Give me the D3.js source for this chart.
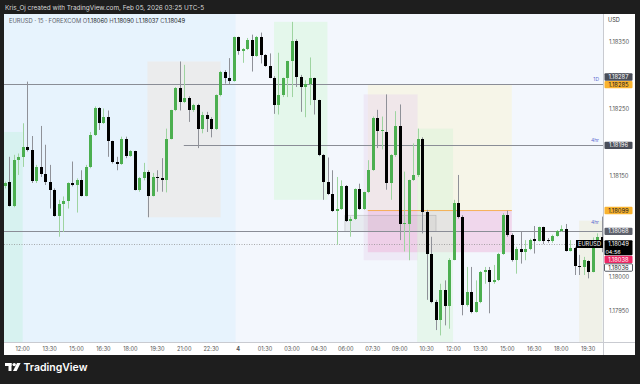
<!DOCTYPE html>
<html>
<head>
<meta charset="utf-8">
<script src="https://cdn.jsdelivr.net/npm/d3@7"></script>
<style>
  html, body { margin: 0; padding: 0; background: #1e1e1e; }
  svg { display: block; font-family: Inter, "Noto Sans", sans-serif; }
</style>
</head>
<body>
<svg id="chart" width="640" height="384"></svg>
<script>
// EURUSD 15m bars, first bar 2026-02-03 11:00
const firstBar = new Date(2026, 1, 3, 11, 0);
const barMinutes = 15;

const opens = [1.18135,1.18141,1.18106,1.18175,1.18178,1.18193,1.18189,1.18143,1.18164,1.18153,
  1.18141,1.18130,1.18091,1.18109,1.18113,1.18140,1.18137,1.18145,1.18121,1.18164,
  1.18211,1.18252,1.18229,1.18238,1.18202,1.18172,1.18168,1.18206,1.18180,1.18187,
  1.18130,1.18147,1.18157,1.18121,1.18149,1.18148,1.18144,1.18206,1.18248,1.18281,
  1.18261,1.18267,1.18248,1.18256,1.18221,1.18241,1.18236,1.18220,1.18271,1.18306,
  1.18297,1.18292,1.18357,1.18336,1.18339,1.18353,1.18329,1.18357,1.18331,1.18314,
  1.18297,1.18256,1.18271,1.18296,1.18321,1.18352,1.18298,1.18283,1.18287,1.18296,
  1.18263,1.18182,1.18141,1.18124,1.18099,1.18101,1.18136,1.18084,1.18086,1.18131,
  1.18102,1.18126,1.18159,1.18237,1.18218,1.18216,1.18140,1.18182,1.18225,1.18079,
  1.18079,1.18144,1.18152,1.18206,1.18097,1.18035,1.17963,1.17936,1.17981,1.17957,
  1.18026,1.18110,1.18090,1.17958,1.17978,1.17948,1.17963,1.18008,1.18010,1.17993,
  1.17995,1.18035,1.18092,1.18063,1.18025,1.18042,1.18038,1.18041,1.18056,1.18054,
  1.18074,1.18055,1.18053,1.18061,1.18069,1.18071,1.18039,1.18043,1.18016,1.18015,
  1.18024,1.18008,1.18055,1.18060];
const highs = [1.18142,1.18179,1.18182,1.18184,1.18229,1.18291,1.18210,1.18167,1.18225,1.18197,
  1.18167,1.18132,1.18115,1.18120,1.18141,1.18172,1.18147,1.18159,1.18167,1.18216,
  1.18254,1.18253,1.18251,1.18248,1.18203,1.18179,1.18209,1.18209,1.18189,1.18188,
  1.18149,1.18170,1.18159,1.18155,1.18159,1.18177,1.18221,1.18249,1.18283,1.18321,
  1.18316,1.18269,1.18258,1.18258,1.18246,1.18246,1.18238,1.18272,1.18307,1.18308,
  1.18326,1.18358,1.18358,1.18341,1.18356,1.18361,1.18359,1.18364,1.18332,1.18333,
  1.18299,1.18334,1.18297,1.18322,1.18380,1.18354,1.18301,1.18293,1.18327,1.18297,
  1.18264,1.18183,1.18178,1.18159,1.18149,1.18144,1.18137,1.18090,1.18132,1.18139,
  1.18127,1.18174,1.18239,1.18249,1.18239,1.18272,1.18183,1.18247,1.18257,1.18157,
  1.18145,1.18199,1.18221,1.18208,1.18100,1.18060,1.17966,1.17990,1.17995,1.18028,
  1.18115,1.18152,1.18092,1.18015,1.18015,1.17995,1.18009,1.18015,1.18015,1.18018,
  1.18036,1.18095,1.18099,1.18065,1.18045,1.18067,1.18055,1.18057,1.18076,1.18075,
  1.18075,1.18058,1.18063,1.18070,1.18077,1.18079,1.18055,1.18045,1.18033,1.18030,
  1.18025,1.18059,1.18065,1.18090];
const lows = [1.18132,1.18105,1.18104,1.18152,1.18164,1.18187,1.18140,1.18140,1.18149,1.18137,
  1.18102,1.18090,1.18060,1.18067,1.18102,1.18135,1.18096,1.18120,1.18120,1.18162,
  1.18210,1.18219,1.18228,1.18179,1.18169,1.18159,1.18167,1.18177,1.18179,1.18129,
  1.18127,1.18144,1.18089,1.18120,1.18127,1.18127,1.18126,1.18205,1.18247,1.18248,
  1.18259,1.18231,1.18246,1.18192,1.18214,1.18216,1.18208,1.18219,1.18269,1.18288,
  1.18286,1.18291,1.18331,1.18319,1.18338,1.18306,1.18328,1.18318,1.18313,1.18296,
  1.18243,1.18242,1.18268,1.18268,1.18268,1.18283,1.18246,1.18238,1.18256,1.18242,
  1.18180,1.18115,1.18122,1.18097,1.18048,1.18100,1.18082,1.18060,1.18085,1.18100,
  1.18100,1.18125,1.18158,1.18192,1.18190,1.18130,1.18115,1.18179,1.18055,1.18038,
  1.18025,1.18143,1.18149,1.18065,1.17966,1.17961,1.17921,1.17913,1.17928,1.17923,
  1.18025,1.18087,1.17943,1.17956,1.17946,1.17947,1.17961,1.17990,1.17946,1.17990,
  1.17994,1.18033,1.18060,1.18023,1.18005,1.18020,1.18025,1.18040,1.18035,1.18053,
  1.18049,1.18051,1.18051,1.18060,1.18067,1.18038,1.18038,1.18003,1.18003,1.18003,
  1.17998,1.18007,1.18054,1.18037];
const closes = [1.18140,1.18106,1.18175,1.18178,1.18193,1.18189,1.18143,1.18164,1.18153,1.18141,
  1.18130,1.18091,1.18109,1.18113,1.18140,1.18137,1.18145,1.18121,1.18164,1.18211,
  1.18252,1.18229,1.18238,1.18202,1.18172,1.18168,1.18206,1.18180,1.18187,1.18130,
  1.18147,1.18157,1.18121,1.18149,1.18148,1.18144,1.18206,1.18248,1.18281,1.18261,
  1.18267,1.18248,1.18256,1.18221,1.18241,1.18236,1.18220,1.18271,1.18306,1.18297,
  1.18292,1.18357,1.18336,1.18339,1.18353,1.18329,1.18357,1.18331,1.18314,1.18297,
  1.18256,1.18271,1.18296,1.18321,1.18352,1.18298,1.18283,1.18287,1.18296,1.18263,
  1.18182,1.18141,1.18124,1.18099,1.18101,1.18136,1.18084,1.18086,1.18131,1.18102,
  1.18126,1.18159,1.18237,1.18218,1.18219,1.18140,1.18182,1.18225,1.18079,1.18080,
  1.18144,1.18152,1.18206,1.18097,1.18035,1.17963,1.17936,1.17981,1.17957,1.18026,
  1.18110,1.18090,1.17958,1.17978,1.17948,1.17963,1.18008,1.18010,1.17993,1.17995,
  1.18035,1.18092,1.18063,1.18025,1.18042,1.18038,1.18041,1.18055,1.18054,1.18074,
  1.18054,1.18053,1.18061,1.18069,1.18071,1.18039,1.18043,1.18016,1.18015,1.18025,
  1.18008,1.18055,1.18060,1.18049];

// drawn zones: bar index from/to, price top/bottom (null = to the axis)
const zoneNames = ["teal", "range", "green", "beige", "lavender", "pink", "mint", "box", "beige2"];
const zoneFrom  = [-1.2, 31.8, 60.0, 80.9, 80.0, 80.9, 91.9, 75.8, 128.0];
const zoneTo    = [4.0, 48.1, 71.9, 113.0, 92.0, 113.0, 99.9, 96.1, 133.2];
const zoneTop   = [1.18216, 1.18321, 1.18380, 1.18286, 1.18272, 1.18099, 1.18221, 1.18092, 1.18084];
const zoneBot   = [null, 1.18089, 1.18115, 1.18099, 1.18025, 1.18037, null, 1.18068, null];

// horizontal levels
const levelPrices = [1.18287, 1.18196, 1.18068];
const levelFrom   = [-1.2, 39.9, -1.2];
const levelTags   = ["1D", "4hr", "4hr"];

const lastPrice = 1.18049;
const countdown = "04:56";
const tagPrices = [1.18287, 1.18285, 1.18196, 1.18099, 1.18068, 1.18038, 1.18036];

const svg = d3.select("#chart");
const plot = { l: 4, r: 603, t: 14, b: 342 };

const y = d3.scaleLinear().domain([1.17950, 1.18350]).range([310.6, 42]);
const x = d3.scaleLinear().domain([0, opens.length - 1]).range([4.75, 601.6]);
const step = x(1) - x(0);

// frame
svg.append("rect").attr("width", 640).attr("height", 384).attr("fill", "#1e1e1e");
svg.append("text").attr("x", 5).attr("y", 9.5).attr("fill", "#d8d8d8")
  .style("font-size", "6.4px").text("Kris_Oj created with TradingView.com, Feb 05, 2026 03:25 UTC-5");
svg.append("rect").attr("x", 4).attr("y", 14).attr("width", 631).attr("height", 341).attr("fill", "#ffffff");

svg.append("defs").append("clipPath").attr("id", "plotclip")
  .append("rect").attr("x", plot.l).attr("y", plot.t)
  .attr("width", plot.r - plot.l).attr("height", plot.b - plot.t);

const g = svg.append("g").attr("clip-path", "url(#plotclip)");

// session backgrounds
const midnight = x(52) - step / 2;
g.append("rect").attr("x", plot.l).attr("y", plot.t).attr("width", midnight - plot.l)
  .attr("height", plot.b - plot.t).attr("fill", "#e7f3fd");
g.append("rect").attr("x", midnight).attr("y", plot.t).attr("width", plot.r - midnight)
  .attr("height", plot.b - plot.t).attr("fill", "#f3f7fd");

const zoneFill = {
  teal: "rgba(205,242,232,0.6)", range: "rgba(236,236,236,0.92)", green: "rgba(225,247,232,0.85)",
  beige: "rgba(246,244,228,0.85)", lavender: "rgba(232,215,238,0.45)", pink: "rgba(238,175,215,0.45)",
  mint: "rgba(215,245,215,0.45)", box: "rgba(170,170,170,0.15)", beige2: "rgba(240,240,230,0.9)"
};
zoneNames.forEach((n, k) => {
  const x0 = x(zoneFrom[k]), x1 = x(zoneTo[k]);
  const y0 = y(zoneTop[k]), y1 = zoneBot[k] == null ? plot.b : y(zoneBot[k]);
  g.append("rect").attr("x", x0).attr("y", y0).attr("width", x1 - x0).attr("height", y1 - y0)
    .attr("fill", zoneFill[n])
    .attr("stroke", n === "box" ? "rgba(130,130,130,0.45)" : "none").attr("stroke-width", 0.6);
});

// orange edge on pink zone
g.append("line").attr("x1", x(zoneFrom[5])).attr("x2", x(zoneTo[5]))
  .attr("y1", y(zoneTop[5])).attr("y2", y(zoneTop[5]))
  .attr("stroke", "#f7a233").attr("stroke-width", 0.8);

// levels
levelPrices.forEach((p, k) => {
  g.append("line").attr("x1", x(levelFrom[k])).attr("x2", plot.r)
    .attr("y1", Math.round(y(p)) + 0.5).attr("y2", Math.round(y(p)) + 0.5)
    .attr("stroke", "#8a8d96").attr("stroke-width", 1);
  g.append("text").attr("x", plot.r - 4).attr("y", y(p) - (k === 2 ? 7 : 3))
    .attr("text-anchor", "end").attr("fill", "#5b6bd1").style("font-size", "5px").text(levelTags[k]);
});

// last price dotted line
g.append("line").attr("x1", plot.l).attr("x2", plot.r)
  .attr("y1", Math.round(y(lastPrice)) + 0.5).attr("y2", Math.round(y(lastPrice)) + 0.5)
  .attr("stroke", "#8a8a8a").attr("stroke-width", 0.7).attr("stroke-dasharray", "1,1.5");

// candles
const bars = d3.range(opens.length).map(i => ({
  i: i, o: opens[i], h: highs[i], l: lows[i], c: closes[i], up: closes[i] >= opens[i]
}));

g.selectAll("line.wick").data(bars).enter().append("line")
  .attr("class", "wick")
  .attr("x1", d => Math.round(x(d.i)) + 0.5).attr("x2", d => Math.round(x(d.i)) + 0.5)
  .attr("y1", d => y(d.h)).attr("y2", d => y(d.l))
  .attr("stroke", d => d.up ? "#9ed4a0" : "#8f9198").attr("stroke-width", 1);

g.selectAll("rect.body").data(bars).enter().append("rect")
  .attr("class", "body")
  .attr("x", d => Math.round(x(d.i)) - 1)
  .attr("y", d => y(Math.max(d.o, d.c)))
  .attr("width", 3)
  .attr("height", d => Math.max(1, Math.abs(y(d.o) - y(d.c))))
  .attr("fill", d => d.up ? "#4caf50" : "#000000")
  .attr("shape-rendering", "crispEdges");

// symbol label by the last bar
g.append("rect").attr("x", 576).attr("y", 240).attr("width", 27).attr("height", 8).attr("fill", "#000");
g.append("text").attr("x", 589.5).attr("y", 246.3).attr("text-anchor", "middle").attr("fill", "#fff")
  .style("font-size", "5.6px").text("EURUSD");

// legend
const legend = svg.append("text").attr("x", 9).attr("y", 22.5).style("font-size", "5.8px").attr("fill", "#5d606b");
legend.append("tspan").text("EURUSD · 15 · FOREXCOM   ");
[["O", opens], ["H", highs], ["L", lows], ["C", closes]].forEach(([k, arr]) => {
  legend.append("tspan").attr("fill", "#5d606b").text(k);
  legend.append("tspan").attr("fill", "#131722").text(arr[arr.length - 1].toFixed(5) + "  ");
});

// axes separators
svg.append("line").attr("x1", plot.r + 0.5).attr("x2", plot.r + 0.5).attr("y1", plot.t).attr("y2", 355)
  .attr("stroke", "#c9cbd1").attr("stroke-width", 1);
svg.append("line").attr("x1", plot.l).attr("x2", 635).attr("y1", plot.b + 0.5).attr("y2", plot.b + 0.5)
  .attr("stroke", "#c9cbd1").attr("stroke-width", 1);

// price ticks, hidden where a tag sits
const tagYs = tagPrices.map(y).concat([y(lastPrice)]);
const ticks = d3.range(1.17950, 1.18351, 0.0005).filter(v => tagYs.every(ty => Math.abs(ty - y(v)) > 6));
svg.selectAll("text.ytick").data(ticks).enter().append("text")
  .attr("class", "ytick").attr("x", 619).attr("y", d => y(d) + 2).attr("text-anchor", "middle")
  .attr("fill", "#555").style("font-size", "5.8px").text(d => d.toFixed(5));
svg.append("text").attr("x", 608).attr("y", 22).attr("fill", "#333").style("font-size", "5.6px").text("USD");

// price tags
const tagStyle = [
  { bg: "#4a4e59", fg: "#fff", dy: -7.3 },
  { bg: "#f9b32f", fg: "#131722", dy: -1 },
  { bg: "#4a4e59", fg: "#fff", dy: 0 },
  { bg: "#f9b32f", fg: "#131722", dy: 0 },
  { bg: "#5d606b", fg: "#fff", dy: 0 },
  { bg: "#ec2764", fg: "#fff", dy: 8 },
  { bg: "#fff", fg: "#131722", dy: 14.7, stroke: "#131722" }
];
function tag(cy, label, s) {
  svg.append("rect").attr("x", 604.5).attr("y", cy - 3.7).attr("width", 28).attr("height", 7.4).attr("rx", 1)
    .attr("fill", s.bg).attr("stroke", s.stroke || "none").attr("stroke-width", 0.7);
  svg.append("text").attr("x", 618.5).attr("y", cy + 2).attr("text-anchor", "middle")
    .attr("fill", s.fg).style("font-size", "5.8px").text(label);
}
tagPrices.forEach((p, k) => tag(y(p) + tagStyle[k].dy, p.toFixed(5), tagStyle[k]));
const ly = y(lastPrice);
svg.append("rect").attr("x", 604.5).attr("y", ly - 3.8).attr("width", 28).attr("height", 15).attr("rx", 1).attr("fill", "#000");
svg.append("text").attr("x", 618.5).attr("y", ly + 2).attr("text-anchor", "middle").attr("fill", "#fff")
  .style("font-size", "5.8px").text(lastPrice.toFixed(5));
svg.append("text").attr("x", 613).attr("y", ly + 9.5).attr("text-anchor", "middle").attr("fill", "#fff")
  .style("font-size", "5.4px").text(countdown);

// time axis
const times = bars.map(d => d3.timeMinute.offset(firstBar, barMinutes * d.i));
const timeTicks = bars.filter(d => {
  const t = times[d.i];
  return (t.getHours() * 60 + t.getMinutes()) % 90 === 0;
});
const fmtHM = d3.timeFormat("%H:%M"), fmtDay = d3.timeFormat("%-d");
const isDay = t => t.getHours() === 0 && t.getMinutes() === 0;
svg.selectAll("text.xtick").data(timeTicks).enter().append("text")
  .attr("class", "xtick").attr("x", d => x(d.i)).attr("y", 351).attr("text-anchor", "middle")
  .attr("fill", "#555").style("font-size", "5.6px")
  .style("font-weight", d => isDay(times[d.i]) ? "700" : "400")
  .text(d => isDay(times[d.i]) ? fmtDay(times[d.i]) : fmtHM(times[d.i]));

// TradingView logo
const logo = svg.append("g").attr("fill", "#ffffff");
logo.append("rect").attr("x", 5).attr("y", 363).attr("width", 6.5).attr("height", 3);
logo.append("rect").attr("x", 8.5).attr("y", 363).attr("width", 3).attr("height", 8);
logo.append("circle").attr("cx", 14.2).attr("cy", 364.6).attr("r", 1.7);
logo.append("path").attr("d", "M17,363 L20.6,363 L16.6,371 L13,371 Z");
svg.append("text").attr("x", 23.5).attr("y", 371).attr("fill", "#fff")
  .style("font-size", "10.5px").style("font-weight", "600").text("TradingView");
</script>
</body>
</html>
